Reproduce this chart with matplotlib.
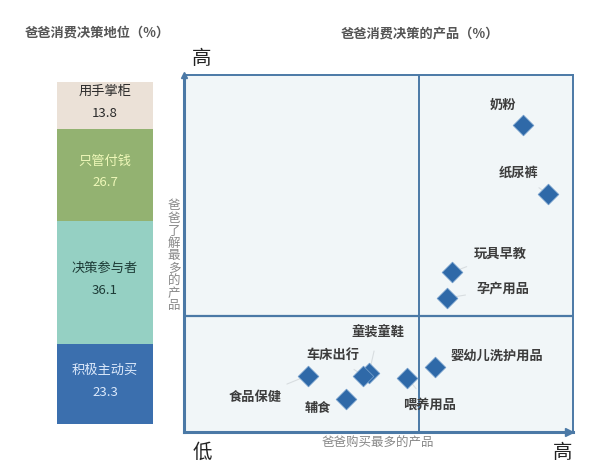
import matplotlib
matplotlib.use("Agg")
import matplotlib.pyplot as plt

plt.rcParams['font.family'] = ['Noto Sans CJK SC', 'DejaVu Sans']

# ---- data ----
role_labels = ["积极主动买", "决策参与者", "只管付钱", "用手掌柜"]
role_values = [23.3, 36.1, 26.7, 13.8]

products = ["奶粉", "纸尿裤", "玩具早教", "孕产用品", "婴幼儿洗护用品",
            "喂养用品", "童装童鞋", "车床出行", "食品保健", "辅食"]
buy_score = [87.1, 93.5, 68.8, 67.5, 64.5, 57.4, 47.6, 46.0, 31.8, 41.6]
know_score = [86.0, 66.7, 44.7, 37.5, 18.3, 15.2, 16.6, 15.8, 15.8, 9.2]
x_split = 60.4
y_split = 32.5

# ---- layout / style ----
label_xy = [(82.0, 91.6), (85.9, 72.5), (81.2, 49.9), (82.0, 40.1), (80.5, 21.3),
            (63.0, 7.6), (49.9, 27.7), (38.3, 21.6), (18.3, 9.8), (34.4, 6.7)]
role_colors = ["#3b6fae", "#95d0c3", "#93b271", "#ebe1d7"]
role_text_colors = ["#dce9fb", "#1d3b36", "#eef7b8", "#2a2a2a"]
frame = "#4b79a6"

W, H = 600, 468
fig = plt.figure(figsize=(6, 4.68), dpi=100)
fig.patch.set_facecolor("white")

# ---- left stacked bar ----
axb = fig.add_axes([57 / W, (H - 424) / H, 96 / W, 342 / H])
bottom = 0
for lab, val, col, tcol in zip(role_labels, role_values, role_colors, role_text_colors):
    axb.bar(0, val, bottom=bottom, width=1.0, color=col, edgecolor="none")
    c = bottom + val / 2
    axb.annotate(lab, (0, c), xytext=(0, 14), textcoords="offset pixels",
                 ha="center", va="center", fontsize=9.5, color=tcol)
    axb.annotate(f"{val}", (0, c), xytext=(0, -8), textcoords="offset pixels",
                 ha="center", va="center", fontsize=9.5, color=tcol)
    bottom += val
axb.set_xlim(-0.5, 0.5)
axb.set_ylim(0, bottom)
axb.axis("off")

fig.text(97 / W, 1 - 33 / H, "爸爸消费决策地位（%）", ha="center", va="center",
         fontsize=9.5, fontweight="bold", color="#555555")
fig.text(420 / W, 1 - 33 / H, "爸爸消费决策的产品（%）", ha="center", va="center",
         fontsize=9.5, fontweight="bold", color="#555555")

# ---- quadrant scatter ----
ax = fig.add_axes([184 / W, (H - 432) / H, 389 / W, 357 / H])
ax.set_facecolor("#f1f6f8")
ax.set_xlim(0, 100)
ax.set_ylim(0, 100)
ax.set_xticks([])
ax.set_yticks([])
for s in ["left", "bottom"]:
    ax.spines[s].set_color(frame)
    ax.spines[s].set_linewidth(2.2)
for s in ["top", "right"]:
    ax.spines[s].set_color(frame)
    ax.spines[s].set_linewidth(1.4)
ax.axvline(x_split, color=frame, lw=1.4)
ax.axhline(y_split, color=frame, lw=1.6)
ax.plot([0], [100], marker="^", ms=5, color=frame, clip_on=False, zorder=5)
ax.plot([99], [0], marker=">", ms=6, color=frame, clip_on=False, zorder=5)

for name, xv, yv, (lx, ly) in zip(products, buy_score, know_score, label_xy):
    ax.annotate(name, (xv, yv), xytext=(lx, ly), textcoords="data",
                ha="center", va="center", fontsize=9.5, fontweight="bold",
                color="#3c3c3c",
                arrowprops=dict(arrowstyle="-", color="#d8dde0", lw=0.8,
                                shrinkA=6, shrinkB=0))
ax.scatter(buy_score, know_score, marker="D", s=110, color="#2f69a8",
           edgecolor="#6f9bc9", linewidth=0.6, zorder=4)

fig.text(202 / W, 1 - 58 / H, "高", ha="center", va="center", fontsize=14, color="#222222")
fig.text(202 / W, 1 - 452 / H, "低", ha="center", va="center", fontsize=14, color="#222222")
fig.text(563 / W, 1 - 452 / H, "高", ha="center", va="center", fontsize=14, color="#222222")
fig.text(378 / W, 1 - 443 / H, "爸爸购买最多的产品", ha="center", va="center",
         fontsize=9, color="#888888")
fig.text(174 / W, 1 - 256 / H, "\n".join("爸爸了解最多的产品"), ha="center", va="center",
         fontsize=9, color="#888888", linespacing=0.95)

fig.savefig("out.png", dpi=100)
